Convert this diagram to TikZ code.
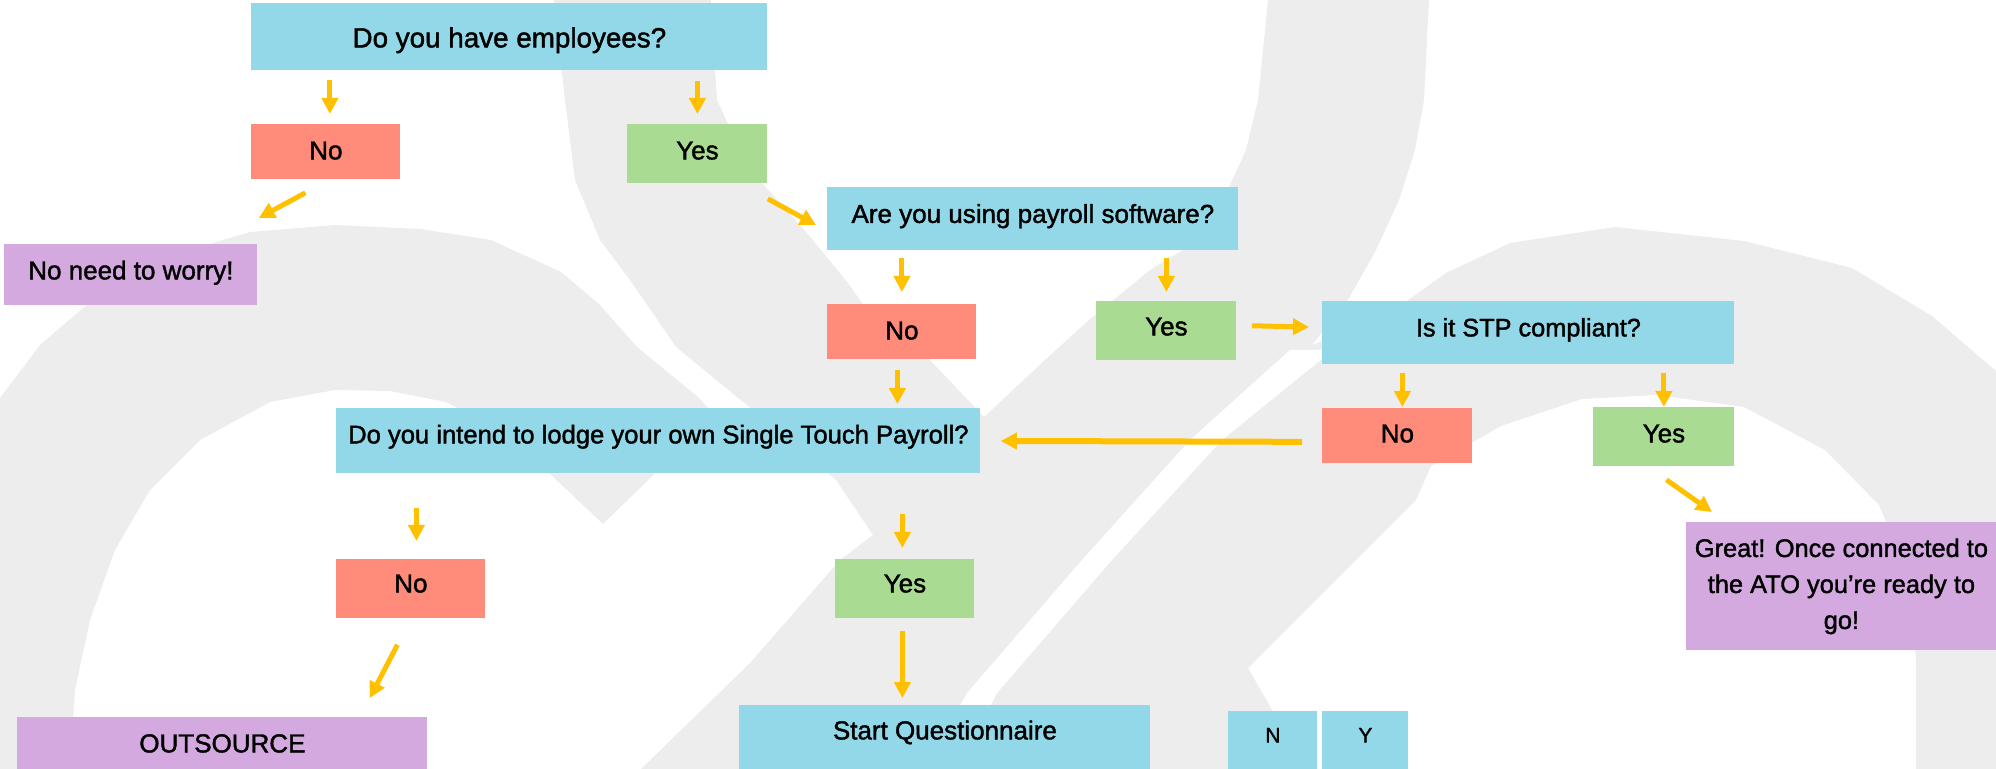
\documentclass[tikz,border=0pt]{standalone}
\usepackage{fontspec}
\setmainfont{Liberation Sans}[FakeBold=1.5]
\usetikzlibrary{arrows.meta}

\definecolor{askc}{HTML}{92D8E8}
\definecolor{noc}{HTML}{FF8B7B}
\definecolor{yesc}{HTML}{A9DB92}
\definecolor{endc}{HTML}{D3A9E0}
\definecolor{arrowc}{HTML}{FFC000}
\definecolor{markc}{HTML}{EDEDED}

\tikzset{
  box/.style={anchor=north west, inner sep=0pt},
  askbox/.style={box, fill=askc},
  nobox/.style={box, fill=noc, minimum width=74.5pt, text height=17.5pt, text depth=10pt},
  yesbox/.style={box, fill=yesc, minimum width=70pt, text height=17.5pt, text depth=12pt},
  endbox/.style={box, fill=endc},
  arr/.style={color=arrowc, line width=2.5pt, -{Triangle[length=8pt,width=8pt]}}
}

\begin{document}
\begin{tikzpicture}[x=0.5pt, y=-0.5pt, font=\fontsize{13}{15.6}\selectfont]
\useasboundingbox (0,0) rectangle (1996,769);

% watermark
\begin{scope}
  \clip (0,0) rectangle (1996,769);
  \fill[markc] (0,398) -- (40,345) -- (83,308) -- (150,262) -- (250,232) -- (335,225) -- (420,229) -- (491,240) -- (561,272) -- (600,305) -- (637,347) -- (698,397) -- (715,415) -- (603,524) -- (549,473) -- (500,430) -- (446,402) -- (390,391) -- (335,390) -- (270,402) -- (200,440) -- (150,490) -- (115,550) -- (90,620) -- (75,690) -- (70,769) -- (0,769) -- cycle;
  \fill[markc] (554,0) -- (711,0) -- (717,100) -- (740,150) -- (762,183) -- (807,233) -- (848,283) -- (874,320) -- (930,360) -- (984,417) -- (1045,360) -- (1089,320) -- (1150,270) -- (1191,245) -- (1223,200) -- (1246,150) -- (1258,100) -- (1268,0) -- (1429,0) -- (1424,100) -- (1415,150) -- (1399,200) -- (1376,250) -- (1348,300) -- (1312,345) -- (1383,320) -- (1408,300) -- (1446,273) -- (1510,243) -- (1615,227) -- (1744,241) -- (1852,268) -- (1932,316) -- (1996,371) -- (1996,769) -- (1916,769) -- (1916,663) -- (1911,584) -- (1879,505) -- (1825,450) -- (1744,407) -- (1657,395) -- (1582,399) -- (1501,426) -- (1431,466) -- (1416,500) -- (1248,668) -- (1306,769) -- (641,769) -- (750,663) -- (840,560) -- (873,535) -- (836,480) -- (790,440) -- (737,397) -- (676,347) -- (630,280) -- (600,240) -- (575,180) -- (565,100) -- cycle;
  \fill[white] (1290,350) -- (1333,350) -- (1222,440) -- (1112,560) -- (997,693) -- (958,769) -- (925,769) -- (967,693) -- (1082,560) -- (1190,440) -- cycle;
\end{scope}

\node[askbox, minimum width=258pt, text height=22pt, text depth=11.5pt, font=\fontsize{13.9}{16}\selectfont] (q1) at (251,3) {Do you have employees?};
\node[nobox] (n1) at (251,124) {No};
\node[yesbox] (y1) at (627,124) {Yes};
\node[endbox, minimum width=126.5pt, text height=17.5pt, text depth=13pt] (e1) at (4,244) {No need to worry!};
\node[askbox, minimum width=205.5pt, text height=17.75pt, text depth=13.75pt] (q2) at (827,187) {Are you using payroll software?};
\node[nobox] (n2) at (827,304) {No};
\node[yesbox, text height=17pt, text depth=12.5pt] (y2) at (1096,301) {Yes};
\node[askbox, minimum width=206pt, text height=17.5pt, text depth=14pt, font=\fontsize{12.65}{15}\selectfont] (q3) at (1322,301) {Is it STP compliant?};
\node[askbox, minimum width=322pt, text height=17.5pt, text depth=15pt, font=\fontsize{12.8}{15}\selectfont] (q4) at (336,408) {Do you intend to lodge your own Single Touch Payroll?};
\node[nobox, minimum width=75pt, text height=17pt, text depth=10.5pt] (n3) at (1322,408) {No};
\node[yesbox, minimum width=70.5pt] (y3) at (1593,407) {Yes};
\node[endbox, minimum width=155pt, minimum height=64pt, align=center, font=\fontsize{12.7}{18}\selectfont] (e2) at (1686,522) {Great! Once connected to\\the ATO you’re ready to\\go!};
\node[nobox, text height=16.5pt, text depth=13pt] (n4) at (336,559) {No};
\node[yesbox, minimum width=69.5pt, text height=16.5pt, text depth=13pt] (y4) at (835,559) {Yes};
\node[endbox, minimum width=205pt, text height=17.5pt, text depth=8.5pt] (e3) at (17,717) {OUTSOURCE};
\node[askbox, minimum width=205.5pt, text height=17pt, text depth=15pt] (q5) at (739,705) {Start Questionnaire};
\node[askbox, minimum width=44.5pt, text height=15.5pt, text depth=13.5pt, font=\fontsize{10.5}{12}\selectfont] (nk) at (1228,711) {N};
\node[askbox, minimum width=43pt, text height=15.5pt, text depth=13.5pt, font=\fontsize{10.5}{12}\selectfont] (yk) at (1322,711) {Y};

\path[arr]
  ([xshift=2pt]n1.north |- q1.south) edge[shorten <=4.5pt, shorten >=5pt] ([xshift=2pt]n1.north)
  (y1.north |- q1.south) edge[shorten <=5pt, shorten >=5pt] (y1.north)
  ([shift={(-10.25pt,-6.5pt)}]n1.south) edge ([shift={(0.5pt,13pt)}]e1.north east)
  ([yshift=-7.5pt]y1.south east) edge ([shift={(-5.5pt,-19pt)}]q2.north west)
  (n2.north |- q2.south) edge[shorten <=3.5pt, shorten >=6pt] (n2.north)
  (y2.north |- q2.south) edge[shorten <=3.5pt, shorten >=4.5pt] (y2.north)
  ([yshift=2.75pt]y2.east) edge[shorten <=7.5pt, shorten >=6.5pt] ([yshift=2.75pt]q3.west)
  ([xshift=2.5pt]n3.north |- q3.south) edge[shorten <=4pt, shorten >=0.5pt] ([xshift=2.5pt]n3.north)
  (y3.north |- q3.south) edge[shorten <=4pt] (y3.north)
  ([yshift=-3pt]n3.west) edge[line width=3pt, shorten <=10pt, shorten >=10pt] (q4.east)
  ([xshift=-2.25pt]n2.south) edge[shorten <=5pt, shorten >=2pt] ([xshift=-2.25pt]n2.south |- q4.north)
  ([xshift=2.75pt]n4.north |- q4.south) edge[shorten <=17pt, shorten >=9pt] ([xshift=2.75pt]n4.north)
  ([xshift=-1.25pt]y4.north |- q4.south) edge[shorten <=20pt, shorten >=5.5pt] ([xshift=-1.25pt]y4.north)
  ([shift={(1.25pt,-6.5pt)}]y3.south) edge ([shift={(13pt,5pt)}]e2.north west)
  ([shift={(-6.75pt,-13pt)}]n4.south) edge ([shift={(-29pt,9.5pt)}]e3.north east)
  ([xshift=-1.25pt]y4.south) edge[shorten <=6pt, shorten >=3.5pt] ([xshift=-1.25pt]y4.south |- q5.north);
\end{tikzpicture}
\end{document}
